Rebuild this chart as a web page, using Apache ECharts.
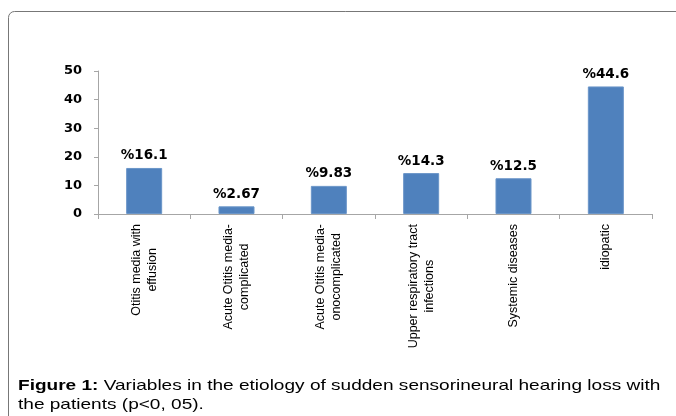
<!DOCTYPE html>
<html>
<head>
<meta charset="utf-8">
<script src="https://cdn.jsdelivr.net/npm/echarts@6/dist/echarts.min.js"></script>
<style>
  html, body { margin: 0; padding: 0; background: #fff; }
  #chart { width: 676px; height: 416px; }
</style>
</head>
<body>
<div id="chart"></div>
<script>
const categories = [
  'Otitis media with\neffusion',
  'Acute Otitis media-\ncomplicated',
  'Acute Otitis media-\nonocomplicated',
  'Upper respiratory tract\ninfections',
  'Systemic diseases',
  'idiopatic'
]
const values = [16.1, 2.67, 9.83, 14.3, 12.5, 44.6]
const yTicks = [0, 10, 20, 30, 40, 50]

const chart = echarts.init(document.getElementById('chart'))

const option = {
  animation: false,
  backgroundColor: '#fff',
  grid: { left: 98, right: 24, top: 71, bottom: 202 },
  xAxis: {
    type: 'category',
    data: categories,
    axisLine: { lineStyle: { color: '#a6a6a6', width: 1 } },
    axisTick: { show: true, length: 5, lineStyle: { color: '#a6a6a6' } },
    axisLabel: {
      rotate: 90,
      margin: 10,
      interval: 0,
      color: '#000',
      fontFamily: 'Liberation Sans, Arial, sans-serif',
      fontSize: 12.5,
      lineHeight: 16,
      formatter: v => v.split('\n').map(s => '{c|' + s + '}').join('\n'),
      rich: {
        c: { align: 'center', fontSize: 12.5, lineHeight: 16, fontFamily: 'Liberation Sans, Arial, sans-serif', color: '#000' }
      }
    }
  },
  yAxis: {
    type: 'value',
    min: yTicks[0],
    max: yTicks[yTicks.length - 1],
    interval: 10,
    splitLine: { show: false },
    axisLine: { show: true, lineStyle: { color: '#a6a6a6', width: 1 } },
    axisTick: { show: true, length: 4, lineStyle: { color: '#a6a6a6' } },
    axisLabel: {
      margin: 16,
      color: '#000',
      fontWeight: 'bold',
      fontSize: 13,
      fontFamily: 'DejaVu Sans, sans-serif'
    }
  },
  series: [{
    type: 'bar',
    data: values,
    barWidth: '39%',
    itemStyle: { color: '#4f81bd', borderColor: '#6a95c8', borderWidth: 1 },
    label: {
      show: true,
      position: 'top',
      distance: 5,
      color: '#000',
      fontWeight: 'bold',
      fontSize: 13.5,
      fontFamily: 'DejaVu Sans, sans-serif',
      formatter: p => '%' + p.value
    }
  }],
  graphic: [
    {
      type: 'rect',
      shape: { x: 8.5, y: 11.5, width: 720, height: 460, r: 6 },
      style: { fill: 'none', stroke: '#777', lineWidth: 1 },
      silent: true
    },
    {
      type: 'text',
      x: 18,
      y: 377,
      scaleX: 1.27,
      style: {
        text: '{b|Figure 1:} Variables in the etiology of sudden sensorineural hearing loss with\nthe patients (p<0, 05).',
        fontFamily: 'Liberation Sans, Arial, sans-serif',
        fontSize: 15,
        lineHeight: 18.5,
        fill: '#000',
        rich: {
          b: { fontWeight: 'bold', fontSize: 15, lineHeight: 18.5, fontFamily: 'Liberation Sans, Arial, sans-serif', fill: '#000' }
        }
      }
    }
  ]
}

chart.setOption(option)
</script>
</body>
</html>
